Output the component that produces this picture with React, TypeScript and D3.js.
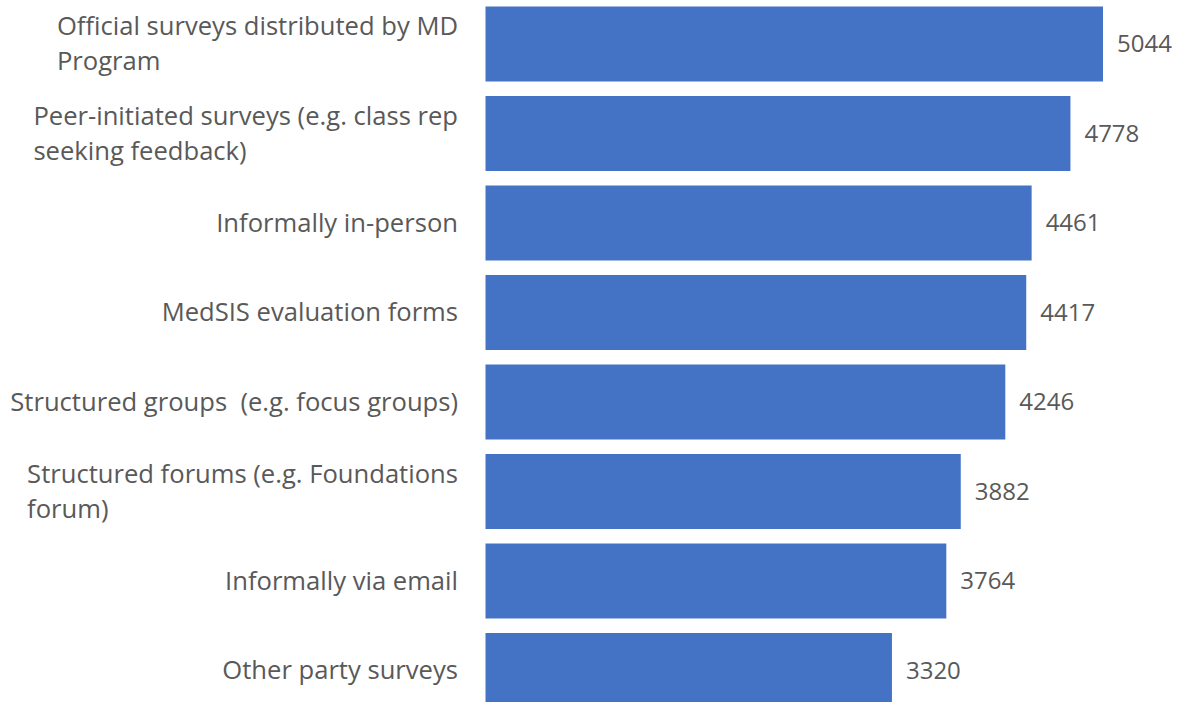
import React, { useEffect, useRef } from "react";
import * as d3 from "d3";

const categories: string[][] = [
  ["Official surveys distributed by MD", "Program"],
  ["Peer-initiated surveys (e.g. class rep", "seeking feedback)"],
  ["Informally in-person"],
  ["MedSIS evaluation forms"],
  ["Structured groups  (e.g. focus groups)"],
  ["Structured forums (e.g. Foundations", "forum)"],
  ["Informally via email"],
  ["Other party surveys"],
];
const values: number[] = [5044, 4778, 4461, 4417, 4246, 3882, 3764, 3320];

const W = 1178;
const H = 702;
const FONT = "'Open Sans', sans-serif";
const TEXT = "#595959";
const BAR = "#4472C4";

export default function App() {
  const ref = useRef<SVGSVGElement | null>(null);

  useEffect(() => {
    const svg = d3.select(ref.current);
    svg.selectAll("*").remove();
    const keys = categories.map((_, i) => String(i));
    const x = d3.scaleLinear().domain([0, 5044]).range([485.5, 1103]);
    const y = d3
      .scaleBand<string>()
      .domain(keys)
      .range([-0.75, 715.25])
      .paddingInner(0.162)
      .paddingOuter(0.081);

    svg
      .append("g")
      .selectAll("rect")
      .data(values)
      .join("rect")
      .attr("x", x(0))
      .attr("y", (_, i) => y(keys[i])!)
      .attr("width", (d) => x(d) - x(0))
      .attr("height", y.bandwidth())
      .attr("fill", BAR);

    svg
      .append("g")
      .selectAll("text")
      .data(values)
      .join("text")
      .attr("x", (d) => x(d) + 14)
      .attr("y", (_, i) => y(keys[i])! + y.bandwidth() / 2)
      .attr("dy", "0.35em")
      .attr("font-family", FONT)
      .attr("font-size", 24)
      .attr("fill", TEXT)
      .text((d) => String(d));

    const labelRight = 458;
    const lineH = 35;
    const lg = svg.append("g");
    categories.forEach((lines, i) => {
      const cy = y(keys[i])! + y.bandwidth() / 2;
      const t = lg
        .append("text")
        .attr("font-family", FONT)
        .attr("font-size", 25.6)
        .attr("fill", TEXT)
        .style("white-space", "pre");
      const spans = lines.map((ln, j) =>
        t
          .append("tspan")
          .attr("y", cy + (j - (lines.length - 1) / 2) * lineH)
          .attr("dy", "0.35em")
          .text(ln)
      );
      const widths = spans.map((s) => (s.node() as SVGTSpanElement).getComputedTextLength());
      const maxW = d3.max(widths) || 0;
      spans.forEach((s) => s.attr("x", labelRight - maxW));
    });
  }, []);

  return (
    <svg
      ref={ref}
      width={W}
      height={H}
      style={{ position: "absolute", left: 0, top: 0, background: "#fff" }}
    />
  );
}
